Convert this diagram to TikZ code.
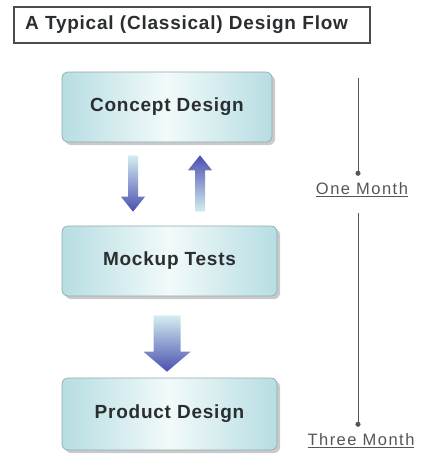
\documentclass[tikz,border=0pt]{standalone}
\usepackage{fontspec}
\setmainfont{Liberation Sans}
\usetikzlibrary{shadows,arrows.meta,calc}
\definecolor{boxedge}{HTML}{B6DDE2}
\definecolor{boxmid}{HTML}{F2FAFA}
\definecolor{boxline}{HTML}{8FA9AC}
\definecolor{txt}{HTML}{2B2E30}
\definecolor{arrdark}{HTML}{4A4FB0}
\definecolor{arrlight}{HTML}{D4EEF0}
\definecolor{tl}{HTML}{555555}
\begin{document}
\begin{tikzpicture}[x=1pt,y=-1pt,
  titlebox/.style={draw=black!70, line width=1.4pt, minimum height=36pt,
    text width=334pt, inner xsep=11pt, align=left,
    font=\fontsize{19}{22}\selectfont\bfseries\addfontfeature{LetterSpace=4}, text=txt},
  stagebox/.style={draw=boxline, line width=0.6pt, rounded corners=6pt,
    left color=boxedge, right color=boxedge, middle color=boxmid,
    drop shadow={shadow xshift=3pt, shadow yshift=-3pt, fill=black!35, opacity=0.6},
    font=\fontsize{19}{22}\selectfont\bfseries\addfontfeature{LetterSpace=4}, text=txt},
  timetext/.style={font=\fontsize{16.5}{19}\selectfont\addfontfeature{LetterSpace=9}, text=tl, inner sep=2pt},
  timeline/.style={draw=tl, line width=0.7pt, -{Circle[length=5pt]}}
]
\useasboundingbox (0,0) rectangle (425,456);

\node[titlebox] (title) at (192,25) {A Typical (Classical) Design Flow};

\node[stagebox, minimum width=210pt, minimum height=70pt] (concept) at (167,107) {Concept Design};
\node[stagebox, minimum width=215pt, minimum height=70pt] (mockup) at (169.5,261) {Mockup Tests};
\node[stagebox, minimum width=215pt, minimum height=72pt] (product) at (169.5,414) {Product Design};

% down arrow concept -> mockup
\path let \p1=($(concept.south)+(-34,13)$), \p2=($(mockup.north)+(-36.5,-14)$) in
  [top color=arrlight, bottom color=arrdark]
  (\x1-5,\y1) -- (\x1+5,\y1) -- (\x1+5,\y2+15) -- (\x1+12,\y2+15) -- (\x1,\y2)
  -- (\x1-12,\y2+15) -- (\x1-5,\y2+15) -- cycle;
% up arrow mockup -> concept
\path let \p1=($(mockup.north)+(30.5,-14)$), \p2=($(concept.south)+(33,13)$) in
  [top color=arrdark, bottom color=arrlight]
  (\x1-5,\y1) -- (\x1+5,\y1) -- (\x1+5,\y2-15) -- (\x1+12,\y2-15) -- (\x1,\y2)
  -- (\x1-12,\y2-15) -- (\x1-5,\y2-15) -- cycle;
% big arrow mockup -> product
\path let \p1=($(mockup.south)+(-2.5,19)$), \p2=($(product.north)+(-2.5,-6)$) in
  [top color=arrlight, bottom color=arrdark]
  (\x1-13.5,\y1) -- (\x1+13.5,\y1) -- (\x1+13.5,\y2+20) -- (\x1+23.5,\y2+20) -- (\x1,\y2)
  -- (\x1-23.5,\y2+20) -- (\x1-13.5,\y2+20) -- cycle;

% timeline
\coordinate (t0) at (358,78);
\node[timetext] (one) at (362,190) {\underline{One Month}};
\node[timetext] (three) at (361,441) {\underline{Three Month}};
\draw[timeline, shorten >=5pt] (t0) -- (t0 |- one.north);
\draw[timeline, shorten <=14pt, shorten >=5pt] (t0 |- one.south) -- (t0 |- three.north);
\end{tikzpicture}
\end{document}
